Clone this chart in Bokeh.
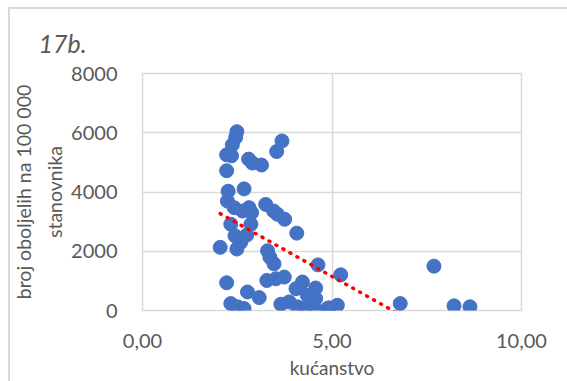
from bokeh.plotting import figure
from bokeh.models import FixedTicker
from bokeh.embed import file_html
from bokeh.resources import INLINE

# number of household members (x) vs. cases per 100 000 inhabitants (y)
households = [2.49, 2.46, 2.37, 2.22, 2.35, 2.22, 2.80, 2.90, 3.14, 3.68, 3.54,
              2.26, 2.68, 2.24, 2.42, 2.81, 2.88, 2.64, 2.33, 2.86, 2.44, 2.75,
              2.59, 2.49, 2.05, 3.25, 3.46, 3.56, 3.75, 4.07, 3.30, 3.36, 3.47,
              4.63, 5.23, 2.22, 3.28, 3.52, 3.74, 4.22, 4.05, 4.57, 2.77, 3.08,
              2.33, 2.51, 2.68, 3.65, 3.87, 4.09, 4.31, 4.53, 4.57, 4.35, 4.92,
              5.14, 4.88, 7.69, 6.80, 8.22, 8.64]
cases = [6035, 5847, 5590, 5255, 5221, 4719, 5110, 4977, 4910, 5723, 5366,
         4027, 4106, 3692, 3471, 3471, 3304, 3357, 2912, 2912, 2520, 2544,
         2299, 2075, 2132, 3581, 3357, 3247, 3079, 2611, 2018, 1797, 1573,
         1540, 1205, 937, 1014, 1071, 1128, 960, 736, 759, 626, 435,
         234, 124, 67, 211, 291, 124, 100, 100, 402, 512, 90,
         177, 67, 1496, 234, 157, 124]

# linear trendline
trend_intercept = 4744
trend_slope = -719

x_ticks = [0, 5, 10]
x_tick_labels = ["0,00", "5,00", "10,00"]
y_ticks = [0, 2000, 4000, 6000, 8000]

title_text = "17b."
x_title = "kućanstvo"
y_title = "broj oboljelih na 100 000\nstanovnika"

GREY_TXT = "#595959"
GRID = "#d9d9d9"
FONT = "Lato"

p = figure(width=567, height=381, output_backend="svg", toolbar_location=None,
           x_range=(0, 10), y_range=(0, 8000),
           min_border_left=142, min_border_right=46,
           min_border_top=73, min_border_bottom=69)

p.background_fill_color = "white"
p.border_fill_color = None
p.outline_line_color = GRID
p.outline_line_width = 1.5

p.scatter(households, cases, size=14, fill_color="#4472C4",
          line_color="#4472C4")

tx = [min(households), max(households)]
ty = [trend_intercept + trend_slope * v for v in tx]
p.line(tx, ty, line_color="#FF0000", line_width=3.5, line_dash="1 7",
       line_cap="round")

for ax in (p.xaxis, p.yaxis):
    ax.axis_line_color = None
    ax.major_tick_line_color = None
    ax.minor_tick_line_color = None
    ax.major_label_text_font = FONT
    ax.major_label_text_font_size = "20px"
    ax.major_label_text_color = GREY_TXT
    ax.axis_label_text_font = FONT
    ax.axis_label_text_font_style = "normal"
    ax.axis_label_text_color = GREY_TXT

p.xaxis.axis_label_text_font_size = "19px"
p.yaxis.axis_label_text_font_size = "19.5px"
p.yaxis.axis_label_text_line_height = 1.35

p.xaxis.ticker = FixedTicker(ticks=x_ticks)
p.xaxis.major_label_overrides = {t: l for t, l in zip(x_ticks, x_tick_labels)}
p.yaxis.ticker = FixedTicker(ticks=y_ticks)
p.xaxis.axis_label = x_title
p.yaxis.axis_label = y_title
p.xaxis.major_label_standoff = 17
p.yaxis.major_label_standoff = 19
p.xaxis.axis_label_standoff = 5
p.yaxis.axis_label_standoff = 2

p.xgrid.grid_line_color = GRID
p.ygrid.grid_line_color = GRID
p.xgrid.grid_line_width = 1.5
p.ygrid.grid_line_width = 1.5

p.title.text = title_text
p.title.align = "left"
p.title.offset = -104
p.title.standoff = 32
p.title.text_font = FONT
p.title.text_font_size = "25px"
p.title.text_font_style = "italic"
p.title.text_color = GREY_TXT

# chart-area border (top and left edges visible in the picture)
p.styles = {
    "background-color": "white",
    "background-image": "linear-gradient(#d9d9d9, #d9d9d9), linear-gradient(#d9d9d9, #d9d9d9)",
    "background-size": "2px 100%, 100% 2px",
    "background-position": "8px 7px, 8px 7px",
    "background-repeat": "no-repeat",
}

open("out.html", "w").write(file_html(p, INLINE))
